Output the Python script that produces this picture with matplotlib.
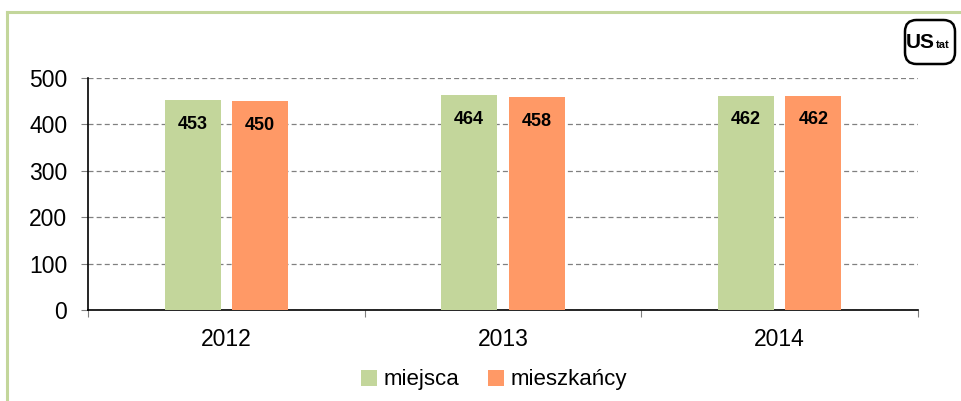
import matplotlib
matplotlib.use("Agg")
import matplotlib.pyplot as plt
from matplotlib.lines import Line2D
from matplotlib.patches import FancyBboxPatch
import numpy as np

plt.rcParams['font.family'] = ['Liberation Sans', 'DejaVu Sans']

# data
years = ['2012', '2013', '2014']
miejsca = [453, 464, 462]
mieszkancy = [450, 458, 462]
series_names = ['miejsca', 'mieszkańcy']

green = '#C3D69B'
orange = '#FF9966'

W, H = 961, 401
fig = plt.figure(figsize=(W / 100, H / 100), dpi=100)
ax = fig.add_axes([88 / W, 1 - 310 / H, (918 - 88) / W, (310 - 78) / H])

x = np.arange(len(years))
bw = 0.202
off = 0.122
b1 = ax.bar(x - off, miejsca, bw, color=green, label=series_names[0], zorder=3)
b2 = ax.bar(x + off, mieszkancy, bw, color=orange, label=series_names[1], zorder=3)

for bars in (b1, b2):
    for rect in bars:
        v = rect.get_height()
        ax.annotate(f'{v:.0f}', (rect.get_x() + rect.get_width() / 2, v),
                    xytext=(0, -17.5), textcoords='offset points',
                    ha='center', va='center', fontsize=13, fontweight='bold',
                    zorder=4)

ax.set_xlim(-0.5, 2.5)
ax.set_ylim(0, 500)
ax.set_yticks(np.arange(0, 501, 100))
ax.yaxis.grid(True, linestyle=(0, (4, 2.5)), color='#808080', linewidth=0.9, zorder=0)
ax.tick_params(axis='y', length=5, width=0.8, pad=10, labelsize=16.5, color='#808080')

# category boundaries as major ticks, labels at centers as minor ticks
ax.set_xticks(np.arange(-0.5, 2.6, 1))
ax.set_xticklabels([])
ax.set_xticks(x, minor=True)
ax.set_xticklabels(years, minor=True)
ax.tick_params(axis='x', which='major', length=5, width=0.8, color='#808080')
ax.tick_params(axis='x', which='minor', length=0, pad=13, labelsize=16.5)

for s in ('top', 'right'):
    ax.spines[s].set_visible(False)
ax.spines['left'].set_linewidth(1.2)
ax.spines['bottom'].set_linewidth(1.2)

fig.legend(handles=[b1, b2], labels=series_names, loc='center',
           bbox_to_anchor=(494 / W, 1 - 380 / H), ncol=2, frameon=False,
           fontsize=16, handlelength=0.7, handleheight=0.7, handletextpad=0.3,
           columnspacing=1.3)

# light green frame (top and left)
fig.add_artist(Line2D([7 / W, 7 / W], [0, 1 - 12 / H], color='#C3D69B', lw=2.2,
                      transform=fig.transFigure))
fig.add_artist(Line2D([7 / W, 1], [1 - 12 / H, 1 - 12 / H], color='#C3D69B', lw=2.2,
                      transform=fig.transFigure))

# logo
fig.add_artist(FancyBboxPatch((905 / W, 1 - 64 / H), 50 / W, 44 / H,
                              boxstyle='round,pad=0,rounding_size=0.012',
                              transform=fig.transFigure, fc='white', ec='black',
                              lw=1.8, mutation_aspect=W / H))
fig.text(935 / W, 1 - 42 / H, 'US', ha='right', va='center', fontsize=15,
         fontweight='bold', fontstretch='condensed')
fig.text(936 / W, 1 - 45 / H, 'tat', ha='left', va='center', fontsize=8,
         fontweight='bold')

fig.savefig('out.png', dpi=100)
